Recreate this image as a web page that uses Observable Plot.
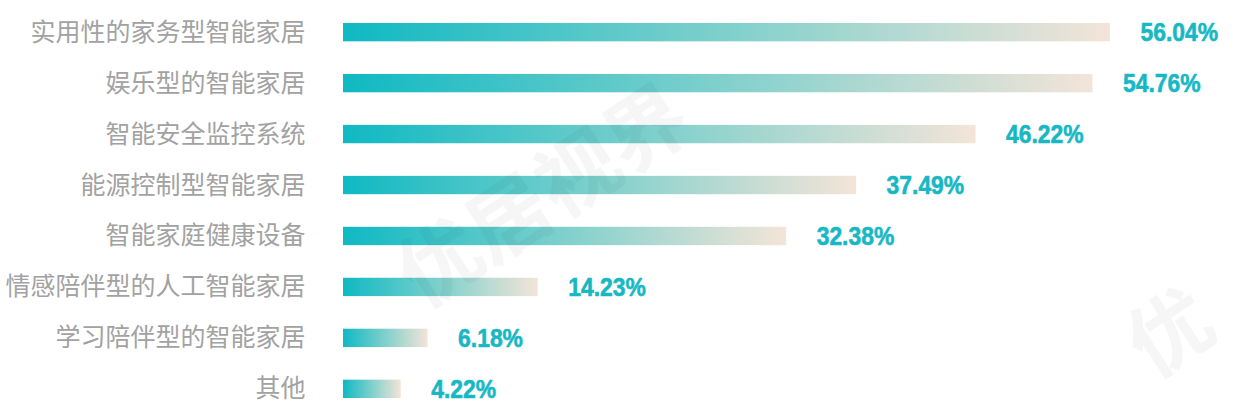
<!DOCTYPE html>
<html><head><meta charset="utf-8">
<script src="https://cdn.jsdelivr.net/npm/d3@7"></script>
<script src="https://cdn.jsdelivr.net/npm/@observablehq/plot@0.6"></script>
<style>
body{margin:0;background:#fff;}
#chart{position:relative;width:1233px;height:414px;overflow:hidden;}
.wm{position:absolute;font-family:"Noto Sans CJK SC";font-weight:700;font-size:82px;color:#000;opacity:0.03;transform:rotate(-33deg);transform-origin:0 0;white-space:nowrap;pointer-events:none;}
</style>
</head><body>
<div id="chart"></div>
<script>
const categories = ["实用性的家务型智能家居","娱乐型的智能家居","智能安全监控系统","能源控制型智能家居","智能家庭健康设备","情感陪伴型的人工智能家居","学习陪伴型的智能家居","其他"];
const values = [56.04, 54.76, 46.22, 37.49, 32.38, 14.23, 6.18, 4.22];
const valueLabels = ["56.04%","54.76%","46.22%","37.49%","32.38%","14.23%","6.18%","4.22%"];

const data = categories.map((c, i) => ({category: c, value: values[i], label: valueLabels[i]}));

const chart = Plot.plot({
  width: 1233,
  height: 414,
  marginLeft: 343,
  marginRight: 0,
  marginTop: 23,
  marginBottom: 16,
  style: {background: "transparent", overflow: "visible"},
  x: {domain: [0, 65.03], axis: null},
  y: {domain: categories, paddingInner: 0.64, paddingOuter: 0, label: null, round: false},
  marks: [
    Plot.axisY({tickSize: 0, tickPadding: 38, fontSize: 25, fill: "#a2a2a2", fontFamily: "Noto Sans CJK SC", label: null}),
    Plot.barX(data, {y: "category", x: "value", fill: "url(#barGrad)"}),
    Plot.text(data, {y: "category", x: "value", text: "label", textAnchor: "start", dx: 30, dy: 0,
      fill: "#17b8c4", stroke: "#17b8c4", strokeWidth: 0.6, fontSize: 26, fontWeight: "bold", fontFamily: "Liberation Sans, Arial, sans-serif", className: "vlabel"})
  ]
});

const ns = "http://www.w3.org/2000/svg";
const defs = document.createElementNS(ns, "defs");
defs.innerHTML = '<linearGradient id="barGrad" x1="0" y1="0" x2="1" y2="0"><stop offset="0" stop-color="#0fb9c3"/><stop offset="0.5" stop-color="#7fd0cc"/><stop offset="1" stop-color="#f4e4d8"/></linearGradient>';
chart.insertBefore(defs, chart.firstChild);

const el = document.getElementById("chart");
el.appendChild(chart);
// condense the value labels
chart.querySelectorAll(".vlabel text").forEach(t => {
  const w = t.getComputedTextLength();
  t.setAttribute("textLength", (w * 0.88).toFixed(1));
  t.setAttribute("lengthAdjust", "spacingAndGlyphs");
});
const wm1 = document.createElement("div"); wm1.className = "wm"; wm1.textContent = "优居视界";
wm1.style.left = "370px"; wm1.style.top = "230px";
const wm2 = document.createElement("div"); wm2.className = "wm"; wm2.textContent = "优";
wm2.style.left = "1100px"; wm2.style.top = "300px";
el.appendChild(wm1); el.appendChild(wm2);
</script>
</body></html>
